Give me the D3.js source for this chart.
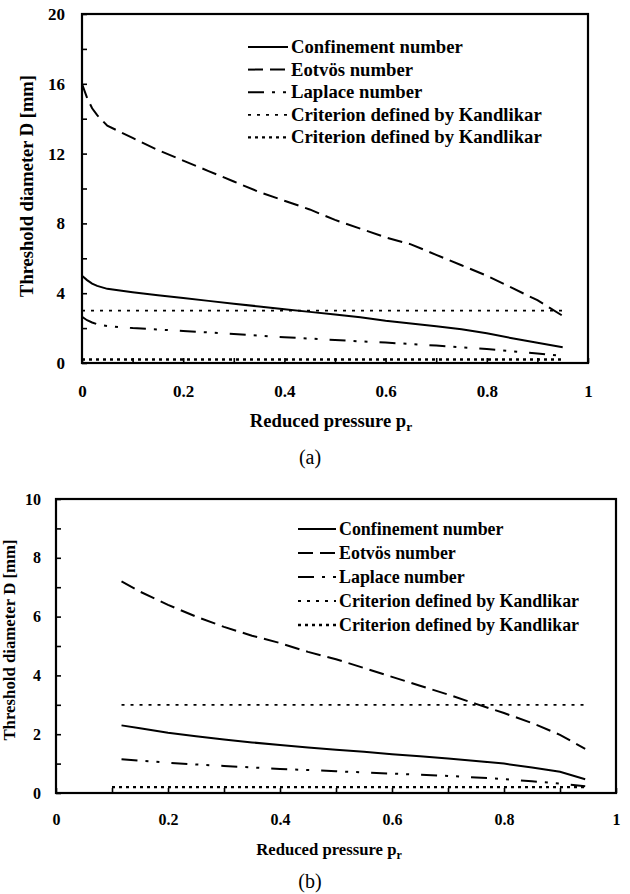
<!DOCTYPE html>
<html><head><meta charset="utf-8">
<script src="https://cdn.jsdelivr.net/npm/d3@7"></script>
<style>
body{margin:0;background:#fff}
svg{display:block}
text{font-family:"Liberation Serif","Times New Roman",serif;fill:#000}
</style>
</head><body>
<svg id="c" width="630" height="894"></svg>
<script>
// ---------- data ----------
const seriesNames = ["Confinement number", "Eotvös number", "Laplace number",
  "Criterion defined by Kandlikar", "Criterion defined by Kandlikar"];

// chart (a)
const aPr = [0, 0.01, 0.02, 0.03, 0.05, 0.1, 0.15, 0.2, 0.25, 0.3, 0.35, 0.4, 0.45,
  0.5, 0.55, 0.6, 0.65, 0.7, 0.75, 0.8, 0.85, 0.9, 0.95];
const aConfinement = [5.0, 4.75, 4.55, 4.42, 4.25, 4.05, 3.88, 3.72, 3.56, 3.4, 3.24, 3.08,
  2.93, 2.78, 2.62, 2.42, 2.26, 2.1, 1.93, 1.7, 1.42, 1.16, 0.9];
const aEotvos = [16, 15.2, 14.6, 14.2, 13.6, 12.9, 12.2, 11.6, 11.0, 10.4, 9.8, 9.3,
  8.8, 8.2, 7.7, 7.2, 6.8, 6.2, 5.6, 5.0, 4.3, 3.6, 2.7];
const aLaplace = [2.65, 2.45, 2.32, 2.22, 2.12, 2.0, 1.92, 1.84, 1.75, 1.66, 1.57, 1.48,
  1.4, 1.32, 1.24, 1.17, 1.09, 1.0, 0.9, 0.8, 0.67, 0.55, 0.4];
const aKandlikarPr = [0, 0.95];
const aKandlikar1 = [3, 3];
const aKandlikar2 = [0.2, 0.2];
const aYTicks = [0, 4, 8, 12, 16, 20];
const aYMinor = [2, 6, 10, 14, 18];

// chart (b)
const bPr = [0.117, 0.15, 0.2, 0.25, 0.3, 0.35, 0.4, 0.45, 0.5, 0.55, 0.6, 0.65, 0.7,
  0.75, 0.8, 0.85, 0.9, 0.945];
const bConfinement = [2.3, 2.2, 2.05, 1.93, 1.82, 1.72, 1.63, 1.55, 1.47, 1.4, 1.32, 1.25,
  1.17, 1.09, 1.0, 0.87, 0.72, 0.47];
const bEotvos = [7.2, 6.85, 6.4, 6.0, 5.65, 5.35, 5.1, 4.8, 4.55, 4.25, 3.95, 3.65,
  3.35, 3.03, 2.72, 2.38, 1.98, 1.5];
const bLaplace = [1.15, 1.1, 1.03, 0.97, 0.92, 0.87, 0.82, 0.78, 0.74, 0.7, 0.66, 0.62,
  0.58, 0.53, 0.47, 0.4, 0.32, 0.23];
const bKandlikar1Pr = [0.117, 0.945];
const bKandlikar1 = [3, 3];
const bKandlikar2Pr = [0.1, 0.945];
const bKandlikar2 = [0.2, 0.2];
const bYTicks = [0, 2, 4, 6, 8, 10];
const bYMinor = [1, 3, 5, 7, 9];

const xTickLabels = [0, 0.2, 0.4, 0.6, 0.8, 1];
const xMinor = [0.1, 0.3, 0.5, 0.7, 0.9];

const yTitle = "Threshold diameter D [mm]";
const xTitleMain = "Reduced pressure p";
const xTitleSub = "r";

// ---------- styles ----------
const dashes = [null, "15,7", "16,8,3,8,3,12", "3,6", "3,4"];
const widths = [2, 2, 2, 1.8, 2.4];

const svg = d3.select("#c");

function drawChart(cfg) {
  const x = d3.scaleLinear().domain([0, 1]).range([cfg.left, cfg.right]);
  const y = d3.scaleLinear().domain([0, cfg.ymax]).range([cfg.bottom, cfg.top]);
  const g = svg.append("g");

  // series
  const line = d3.line().x(d => x(d[0])).y(d => y(d[1]));
  cfg.series.forEach((s, i) => {
    const pts = s.xs.map((v, j) => [v, s.ys[j]]);
    g.append("path").attr("d", line(pts)).attr("fill", "none")
      .attr("stroke", "#000").attr("stroke-width", widths[i])
      .attr("stroke-dasharray", dashes[i]);
  });

  // axes
  const allY = cfg.yTicks.concat(cfg.yMinor);
  g.append("g").attr("transform", `translate(${cfg.left},0)`)
    .call(d3.axisLeft(y).tickValues(allY).tickSize(-5).tickPadding(cfg.yPad)
      .tickFormat(d => cfg.yTicks.includes(d) ? String(d) : ""))
    .call(a => a.select(".domain").remove())
    .call(a => a.selectAll("line").attr("stroke", "#000").attr("stroke-width", 1.6))
    .call(a => a.selectAll("text").attr("font-family", null).style("font-size", cfg.tickFont + "px")
      .style("font-weight", "bold").attr("fill", "#000"));

  const allX = xTickLabels.concat(xMinor);
  g.append("g").attr("transform", `translate(0,${cfg.bottom})`)
    .call(d3.axisBottom(x).tickValues(allX).tickSize(-5).tickPadding(cfg.xPad)
      .tickFormat(d => xTickLabels.includes(d) ? String(d) : ""))
    .call(a => a.select(".domain").remove())
    .call(a => a.selectAll("line").attr("stroke", "#000").attr("stroke-width", 1.6))
    .call(a => a.selectAll("text").attr("font-family", null).style("font-size", cfg.tickFont + "px")
      .style("font-weight", "bold").attr("fill", "#000"));

  // frame
  g.append("rect").attr("x", cfg.left).attr("y", cfg.top)
    .attr("width", cfg.right - cfg.left).attr("height", cfg.bottom - cfg.top)
    .attr("fill", "none").attr("stroke", "#000").attr("stroke-width", 2.2);

  // legend
  seriesNames.forEach((name, i) => {
    const yy = cfg.legY + i * cfg.legStep;
    g.append("line").attr("x1", cfg.legX1).attr("x2", cfg.legX2)
      .attr("y1", yy).attr("y2", yy).attr("stroke", "#000")
      .attr("stroke-width", widths[i]).attr("stroke-dasharray", dashes[i]);
    g.append("text").attr("x", cfg.legX2 + 3).attr("y", yy + 6)
      .style("font-size", cfg.legFont + "px").style("font-weight", "bold").text(name);
  });

  // y title
  g.append("text")
    .attr("transform", `translate(${cfg.yTitleX},${cfg.yTitleY}) rotate(-90)`)
    .attr("text-anchor", "middle").style("font-size", cfg.yTitleFont + "px")
    .style("font-weight", "bold").text(yTitle);

  // x title
  const xt = g.append("text").attr("x", cfg.xTitleX).attr("y", cfg.xTitleY)
    .attr("text-anchor", "middle").style("font-size", cfg.xTitleFont + "px")
    .style("font-weight", "bold");
  xt.append("tspan").text(xTitleMain);
  xt.append("tspan").attr("dy", 4).style("font-size", (cfg.xTitleFont * 0.72) + "px").text(xTitleSub);

  // panel label
  g.append("text").attr("x", cfg.capX).attr("y", cfg.capY).attr("text-anchor", "middle")
    .style("font-size", cfg.capFont + "px").text(cfg.caption);
}

drawChart({
  left: 82, right: 588, top: 14, bottom: 363, ymax: 20,
  yTicks: aYTicks, yMinor: aYMinor, yPad: 17, xPad: 22, tickFont: 17,
  series: [
    { xs: aPr, ys: aConfinement },
    { xs: aPr, ys: aEotvos },
    { xs: aPr, ys: aLaplace },
    { xs: aKandlikarPr, ys: aKandlikar1 },
    { xs: aKandlikarPr, ys: aKandlikar2 }
  ],
  legX1: 248, legX2: 288, legY: 47, legStep: 22.6, legFont: 18.7,
  yTitleX: 33, yTitleY: 186, yTitleFont: 18.5, xTitleFont: 18.6,
  xTitleX: 331, xTitleY: 427,
  capX: 310, capY: 464, capFont: 20, caption: "(a)"
});

drawChart({
  left: 56, right: 616, top: 499, bottom: 793, ymax: 10,
  yTicks: bYTicks, yMinor: bYMinor, yPad: 15, xPad: 21, tickFont: 16,
  series: [
    { xs: bPr, ys: bConfinement },
    { xs: bPr, ys: bEotvos },
    { xs: bPr, ys: bLaplace },
    { xs: bKandlikar1Pr, ys: bKandlikar1 },
    { xs: bKandlikar2Pr, ys: bKandlikar2 }
  ],
  legX1: 298, legX2: 336, legY: 529, legStep: 24, legFont: 17.9,
  yTitleX: 15, yTitleY: 640, yTitleFont: 16.8, xTitleFont: 16.7,
  xTitleX: 329, xTitleY: 855,
  capX: 310, capY: 888, capFont: 20, caption: "(b)"
});
</script>
</body></html>
